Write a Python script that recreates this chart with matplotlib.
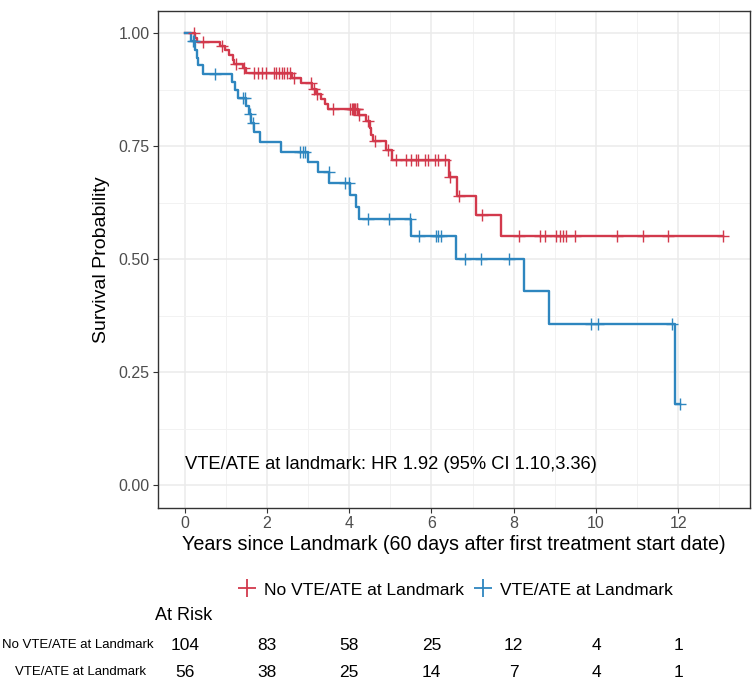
import matplotlib
matplotlib.use("Agg")
import matplotlib.pyplot as plt
from matplotlib.lines import Line2D
from matplotlib.transforms import blended_transform_factory

plt.rcParams['font.family'] = ['Liberation Sans', 'DejaVu Sans']

# No VTE/ATE at Landmark (red): event times and survival after each drop
red_time = [0.25, 0.30, 0.85, 0.97, 1.09, 1.17, 1.21, 1.41, 1.49,
            2.62, 2.83, 3.10, 3.19, 3.31, 3.40, 3.48, 4.22, 4.42, 4.50,
            4.54, 4.58, 4.90, 5.03, 6.43, 6.63, 7.09, 7.69]
red_surv = [0.990, 0.981, 0.971, 0.962, 0.952, 0.942, 0.932, 0.923, 0.913,
            0.901, 0.889, 0.877, 0.866, 0.855, 0.844, 0.833, 0.819, 0.805, 0.790,
            0.776, 0.762, 0.741, 0.720, 0.681, 0.640, 0.598, 0.551]
red_end = 13.09
red_cens_t = [0.23, 0.44, 0.91, 1.25, 1.45, 1.69, 1.78, 1.88, 1.97, 2.18, 2.22,
              2.30, 2.36, 2.42, 2.50, 2.55, 2.66, 3.08, 3.15, 3.22, 3.61, 4.02,
              4.06, 4.09, 4.12, 4.15, 4.18, 4.20, 4.25, 4.46, 4.62, 4.95,
              5.15, 5.37, 5.51, 5.62, 5.67, 5.84, 5.92, 6.08, 6.16, 6.32, 6.44,
              6.68, 7.23, 8.12, 8.65, 8.76, 9.03, 9.13, 9.19, 9.28, 9.49,
              10.50, 11.14, 11.75, 13.09]

# VTE/ATE at Landmark (blue)
blue_time = [0.16, 0.26, 0.30, 0.32, 0.45, 1.15, 1.23, 1.30, 1.49, 1.56,
             1.61, 1.69, 1.84, 2.34, 3.00, 3.23, 3.52, 4.03, 4.17, 4.24,
             5.51, 6.59, 8.24, 8.86, 11.91]
blue_surv = [0.982, 0.964, 0.946, 0.929, 0.911, 0.893, 0.875, 0.857, 0.839, 0.821,
             0.802, 0.781, 0.760, 0.738, 0.716, 0.693, 0.668, 0.642, 0.615, 0.588,
             0.551, 0.500, 0.429, 0.357, 0.179]
blue_end = 12.05
blue_cens_t = [0.20, 0.23, 0.73, 1.41, 1.47, 1.58, 1.65, 2.80, 2.88, 2.93,
               3.51, 3.89, 4.00, 4.46, 4.96, 5.47, 5.70, 6.10, 6.16, 6.22,
               6.81, 7.21, 7.88, 9.87, 10.05, 11.84, 12.05]

risk_times = [0, 2, 4, 6, 8, 10, 12]
risk_red = [104, 83, 58, 25, 12, 4, 1]
risk_blue = [56, 38, 25, 14, 7, 4, 1]

red = '#D2394C'
blue = '#2E86BF'


def surv_at(t, times, surv):
    s = 1.0
    for ti, si in zip(times, surv):
        if ti <= t:
            s = si
    return s


fig = plt.figure(figsize=(7.55, 6.87), dpi=100)
ax = fig.add_axes([0.2089, 0.2610, 0.9934 - 0.2089, 0.9844 - 0.2610])

for times, surv, end, cens, col in [(red_time, red_surv, red_end, red_cens_t, red),
                                    (blue_time, blue_surv, blue_end, blue_cens_t, blue)]:
    xs = [0] + times + [end]
    ys = [1.0] + surv + [surv[-1]]
    ax.step(xs, ys, where='post', color=col, lw=1.7, zorder=3)
    cy = [surv_at(t, times, surv) for t in cens]
    ax.plot(cens, cy, ls='none', marker='+', ms=8.5, mew=1.0, color=col, zorder=4)

ax.set_xlim(-0.655, 13.745)
ax.set_ylim(-0.05, 1.05)
ax.set_xticks(range(0, 13, 2))
ax.set_xticks(range(1, 14, 2), minor=True)
ax.set_yticks([0, 0.25, 0.5, 0.75, 1.0])
ax.set_yticks([0.125, 0.375, 0.625, 0.875], minor=True)
ax.set_yticklabels(['0.00', '0.25', '0.50', '0.75', '1.00'])
ax.grid(True, which='major', color='#EBEBEB', lw=1.1, zorder=0)
ax.grid(True, which='minor', color='#F2F2F2', lw=0.7, zorder=0)
ax.set_axisbelow(True)
ax.tick_params(which='major', length=3.5, width=0.8, color='#333333',
               labelcolor='#4D4D4D', labelsize=11.5, pad=2.5)
ax.tick_params(which='minor', length=0)
for sp in ax.spines.values():
    sp.set_color('#333333')
    sp.set_linewidth(1.0)

ax.set_xlabel('Years since Landmark (60 days after first treatment start date)',
              fontsize=14.2, labelpad=3)
ax.set_ylabel('Survival Probability', fontsize=14, labelpad=6)
ax.text(0.0, 0.046, 'VTE/ATE at landmark: HR 1.92 (95% CI 1.10,3.36)',
        fontsize=13.2, va='center', ha='left')

handles = [Line2D([], [], ls='none', marker='+', ms=13, mew=1.3, color=red),
           Line2D([], [], ls='none', marker='+', ms=13, mew=1.3, color=blue)]
fig.legend(handles, ['No VTE/ATE at Landmark', 'VTE/ATE at Landmark'],
           loc='center', bbox_to_anchor=(0.603, 0.1412), ncol=2, frameon=False,
           fontsize=12.5, handlelength=1.1, handletextpad=0.45, columnspacing=0.5)

tr = blended_transform_factory(ax.transData, fig.transFigure)
fig.text(0.205, 0.1048, 'At Risk', fontsize=13, ha='left', va='center')
narrow = ['Liberation Sans Narrow', 'Liberation Sans']
fig.text(0.203, 0.0611, 'No VTE/ATE at Landmark', fontsize=9.5, ha='right',
         va='center', family=narrow)
fig.text(0.194, 0.0218, 'VTE/ATE at Landmark', fontsize=9.5, ha='right',
         va='center', family=narrow)
for t, a, b in zip(risk_times, risk_red, risk_blue):
    ax.text(t, 0.0611, str(a), transform=tr, fontsize=12.5, ha='center', va='center')
    ax.text(t, 0.0218, str(b), transform=tr, fontsize=12.5, ha='center', va='center')

fig.savefig('out.png', dpi=100)
